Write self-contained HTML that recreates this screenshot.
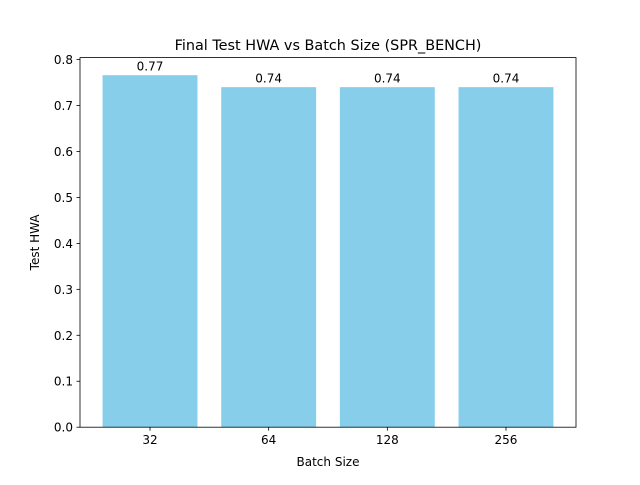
<!DOCTYPE html>
<html><head><meta charset="utf-8"><style>
body{margin:0;background:#fff}
svg text{font-family:"DejaVu Sans","Liberation Sans",sans-serif;fill:#000}
</style></head><body>
<svg id="chart" width="640" height="480" xmlns="http://www.w3.org/2000/svg">
<rect width="640" height="480" fill="#fff"/>
<text x="328" y="50" font-size="14.4" text-anchor="middle">Final Test HWA vs Batch Size (SPR_BENCH)</text>
<text x="328" y="466" font-size="12" text-anchor="middle">Batch Size</text>
<text transform="translate(39,242.4) rotate(-90)" font-size="12" text-anchor="middle">Test HWA</text>
<g id="bars"></g><g id="ticks"></g>
<rect x="80" y="57.6" width="496" height="369.6" fill="none" stroke="#000" stroke-width="0.8"/>
</svg>
<script>
const categories=["32","64","128","256"];
const values=[0.766,0.740,0.740,0.740];
const labels=["0.77","0.74","0.74","0.74"];
const yTicks=[0,0.1,0.2,0.3,0.4,0.5,0.6,0.7,0.8];
const NS="http://www.w3.org/2000/svg";
const L=80,R=576,T=57.6,B=427.2;
const ymax=Math.max(...values)*1.05;
const n=categories.length, xmin=-0.4-0.05*(n-1+0.8), xmax=n-1+0.4+0.05*(n-1+0.8);
const xs=v=>L+(v-xmin)/(xmax-xmin)*(R-L);
const ys=v=>B-v/ymax*(B-T);
const bars=document.getElementById('bars'),ticks=document.getElementById('ticks');
function mk(t,a,p){const e=document.createElementNS(NS,t);for(const k in a)e.setAttribute(k,a[k]);p.appendChild(e);return e;}
values.forEach((v,i)=>{
 const x0=xs(i-0.4),x1=xs(i+0.4);
 const r=mk('rect',{x:x0,y:ys(v),width:x1-x0,height:B-ys(v),fill:'#87ceeb'},bars);
 
 
 const t=mk('text',{x:xs(i),y:ys(v)-4.5,'font-size':12,'text-anchor':'middle'},bars);
 t.textContent=labels[i];
 
 
 const tk=mk('line',{x1:xs(i),x2:xs(i),y1:B,y2:B+3.5,stroke:'#000','stroke-width':0.8},ticks);
 
 
 const tl=mk('text',{x:xs(i),y:B+17,'font-size':12,'text-anchor':'middle'},ticks);
 tl.textContent=categories[i];
 
 
});
yTicks.forEach(v=>{
 const tk=mk('line',{x1:L-3.5,x2:L,y1:ys(v),y2:ys(v),stroke:'#000','stroke-width':0.8},ticks);
 
 
 const tl=mk('text',{x:L-7,y:ys(v)+4.5,'font-size':12,'text-anchor':'end'},ticks);
 tl.textContent=v.toFixed(1);
 
 
});
</script>
</body></html>
